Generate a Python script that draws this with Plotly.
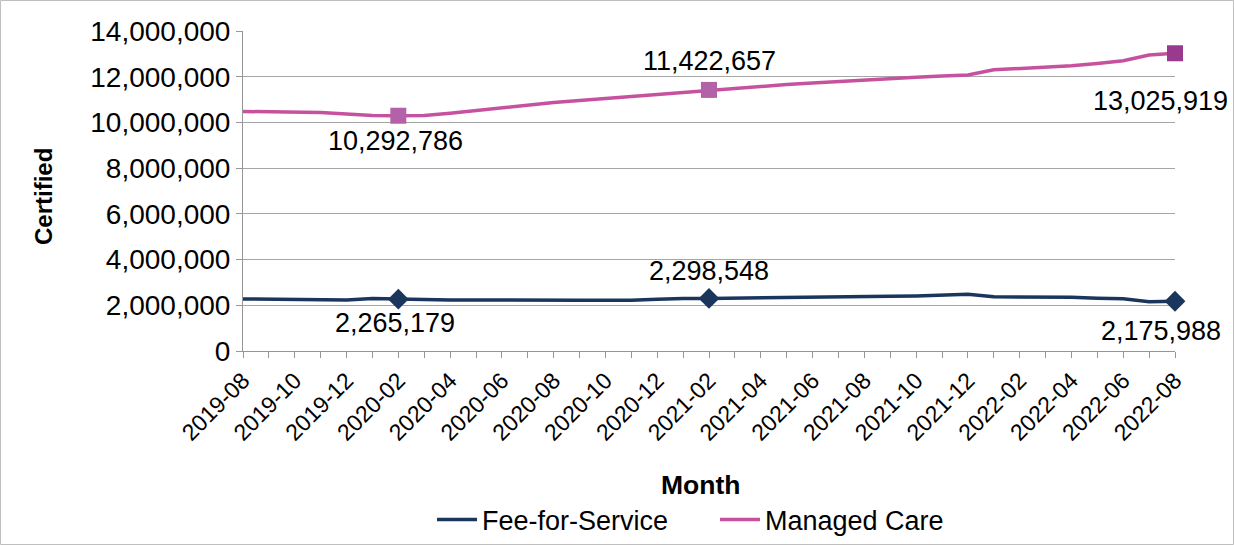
import plotly.graph_objects as go

months = ["2019-08", "2019-09", "2019-10", "2019-11", "2019-12", "2020-01", "2020-02",
          "2020-03", "2020-04", "2020-05", "2020-06", "2020-07", "2020-08", "2020-09",
          "2020-10", "2020-11", "2020-12", "2021-01", "2021-02", "2021-03", "2021-04",
          "2021-05", "2021-06", "2021-07", "2021-08", "2021-09", "2021-10", "2021-11",
          "2021-12", "2022-01", "2022-02", "2022-03", "2022-04", "2022-05", "2022-06",
          "2022-07", "2022-08"]

fee_for_service = [2280000, 2270000, 2260000, 2220000, 2230000, 2300000, 2265179,
                   2240000, 2230000, 2230000, 2220000, 2230000, 2220000, 2220000,
                   2220000, 2220000, 2260000, 2300000, 2298548, 2310000, 2330000,
                   2310000, 2320000, 2340000, 2370000, 2390000, 2410000, 2440000,
                   2480000, 2370000, 2370000, 2360000, 2350000, 2310000, 2290000,
                   2160000, 2175988]

managed_care = [10480000, 10470000, 10460000, 10430000, 10370000, 10300000, 10292786,
                10300000, 10400000, 10520000, 10640000, 10760000, 10870000, 10960000,
                11050000, 11140000, 11240000, 11330000, 11422657, 11500000, 11580000,
                11660000, 11730000, 11800000, 11870000, 11940000, 11980000, 12030000,
                12080000, 12300000, 12350000, 12420000, 12480000, 12580000, 12700000,
                12950000, 13025919]

marked_idx = [6, 18, 36]
tick_vals = months
tick_text = [m if i % 2 == 0 else "" for i, m in enumerate(months)]
y_ticks = [0, 2000000, 4000000, 6000000, 8000000, 10000000, 12000000, 14000000]

FONT = "Liberation Sans, Arial, sans-serif"
NAVY = "#1B365D"
MC_LINE = "#C6529F"
MC_MARK = ["#B462A7", "#B462A7", "#993A8F"]

ffs_sizes = [16 if i in marked_idx else 0 for i in range(len(months))]
mc_sizes = [16 if i in marked_idx else 0 for i in range(len(months))]
mc_colors = []
k = 0
for i in range(len(months)):
    if i in marked_idx:
        mc_colors.append(MC_MARK[k]); k += 1
    else:
        mc_colors.append(MC_LINE)

fig = go.Figure()
fig.add_trace(go.Scatter(x=months, y=fee_for_service, name="Fee-for-Service",
                         mode="lines+markers", line=dict(color=NAVY, width=3.5),
                         cliponaxis=False,
                         marker=dict(symbol="diamond", size=ffs_sizes, color=NAVY,
                                     opacity=1, line=dict(width=0))))
fig.add_trace(go.Scatter(x=months, y=managed_care, name="Managed Care",
                         mode="lines+markers", line=dict(color=MC_LINE, width=3.5),
                         cliponaxis=False,
                         marker=dict(symbol="square", size=mc_sizes, color=mc_colors,
                                     opacity=1, line=dict(width=0))))

LBL = 27
label_shifts_mc = [(-3, -25), (0, 29), (-15, -48)]
label_shifts_ffs = [(-3, -24), (0, 27), (-14, -30)]
for (i, (dx, dy)) in zip(marked_idx, label_shifts_mc):
    fig.add_annotation(x=months[i], y=managed_care[i], text=f"{managed_care[i]:,}",
                       showarrow=False, xshift=dx, yshift=dy,
                       xanchor="center", yanchor="middle",
                       font=dict(family=FONT, size=LBL, color="#000000"))
for (i, (dx, dy)) in zip(marked_idx, label_shifts_ffs):
    fig.add_annotation(x=months[i], y=fee_for_service[i], text=f"{fee_for_service[i]:,}",
                       showarrow=False, xshift=dx, yshift=dy,
                       xanchor="center", yanchor="middle",
                       font=dict(family=FONT, size=LBL, color="#000000"))

fig.add_annotation(xref="paper", yref="paper", x=(700 - 243) / 932, y=(351 - 485) / 320,
                   text="<b>Month</b>", showarrow=False,
                   xanchor="center", yanchor="middle",
                   font=dict(family=FONT, size=26.5, color="#000000"))
fig.add_annotation(xref="paper", yref="paper", x=(43 - 243) / 932, y=(351 - 197) / 320,
                   text="<b>Certified</b>", showarrow=False, textangle=-90,
                   xanchor="center", yanchor="middle",
                   font=dict(family=FONT, size=24, color="#000000"))

fig.add_shape(type="rect", xref="paper", yref="paper",
              x0=(0.5 - 243) / 932, x1=(1233.5 - 243) / 932,
              y0=(351 - 544.5) / 320, y1=(351 - 0.5) / 320,
              line=dict(color="#BFBFBF", width=1))

fig.update_layout(
    width=1234, height=545,
    margin=dict(l=243, r=59, t=31, b=194),
    paper_bgcolor="white", plot_bgcolor="white",
    font=dict(family=FONT, size=22, color="#000000"),
    showlegend=True,
    legend=dict(orientation="h", xref="container", yref="container",
                x=432 / 1234, xanchor="left",
                y=(545 - 520) / 545, yanchor="middle",
                bgcolor="rgba(0,0,0,0)",
                font=dict(family=FONT, size=27, color="#000000"),
                itemwidth=40, tracegroupgap=0,
                entrywidth=228, entrywidthmode="pixels"),
    xaxis=dict(type="category", range=[0, 36], tickmode="array",
               tickvals=tick_vals, ticktext=tick_text, tickangle=-45,
               ticks="outside", ticklen=6, tickcolor="#969696",
               showline=True, linecolor="#969696", linewidth=1,
               showgrid=False, automargin=False, tickfont=dict(family=FONT, size=23)),
    yaxis=dict(range=[0, 14000000], tickvals=y_ticks,
               ticktext=[f"{v:,}" for v in y_ticks],
               ticks="outside", ticklen=6, tickcolor="#969696",
               showline=True, linecolor="#969696", linewidth=1,
               showgrid=True, gridcolor="#A6A6A6", gridwidth=1,
               zeroline=False, automargin=False, tickfont=dict(family=FONT, size=28)),
)

fig.write_html("out.html", config={"displayModeBar": False},
               post_script="document.body.style.margin='0px';")
